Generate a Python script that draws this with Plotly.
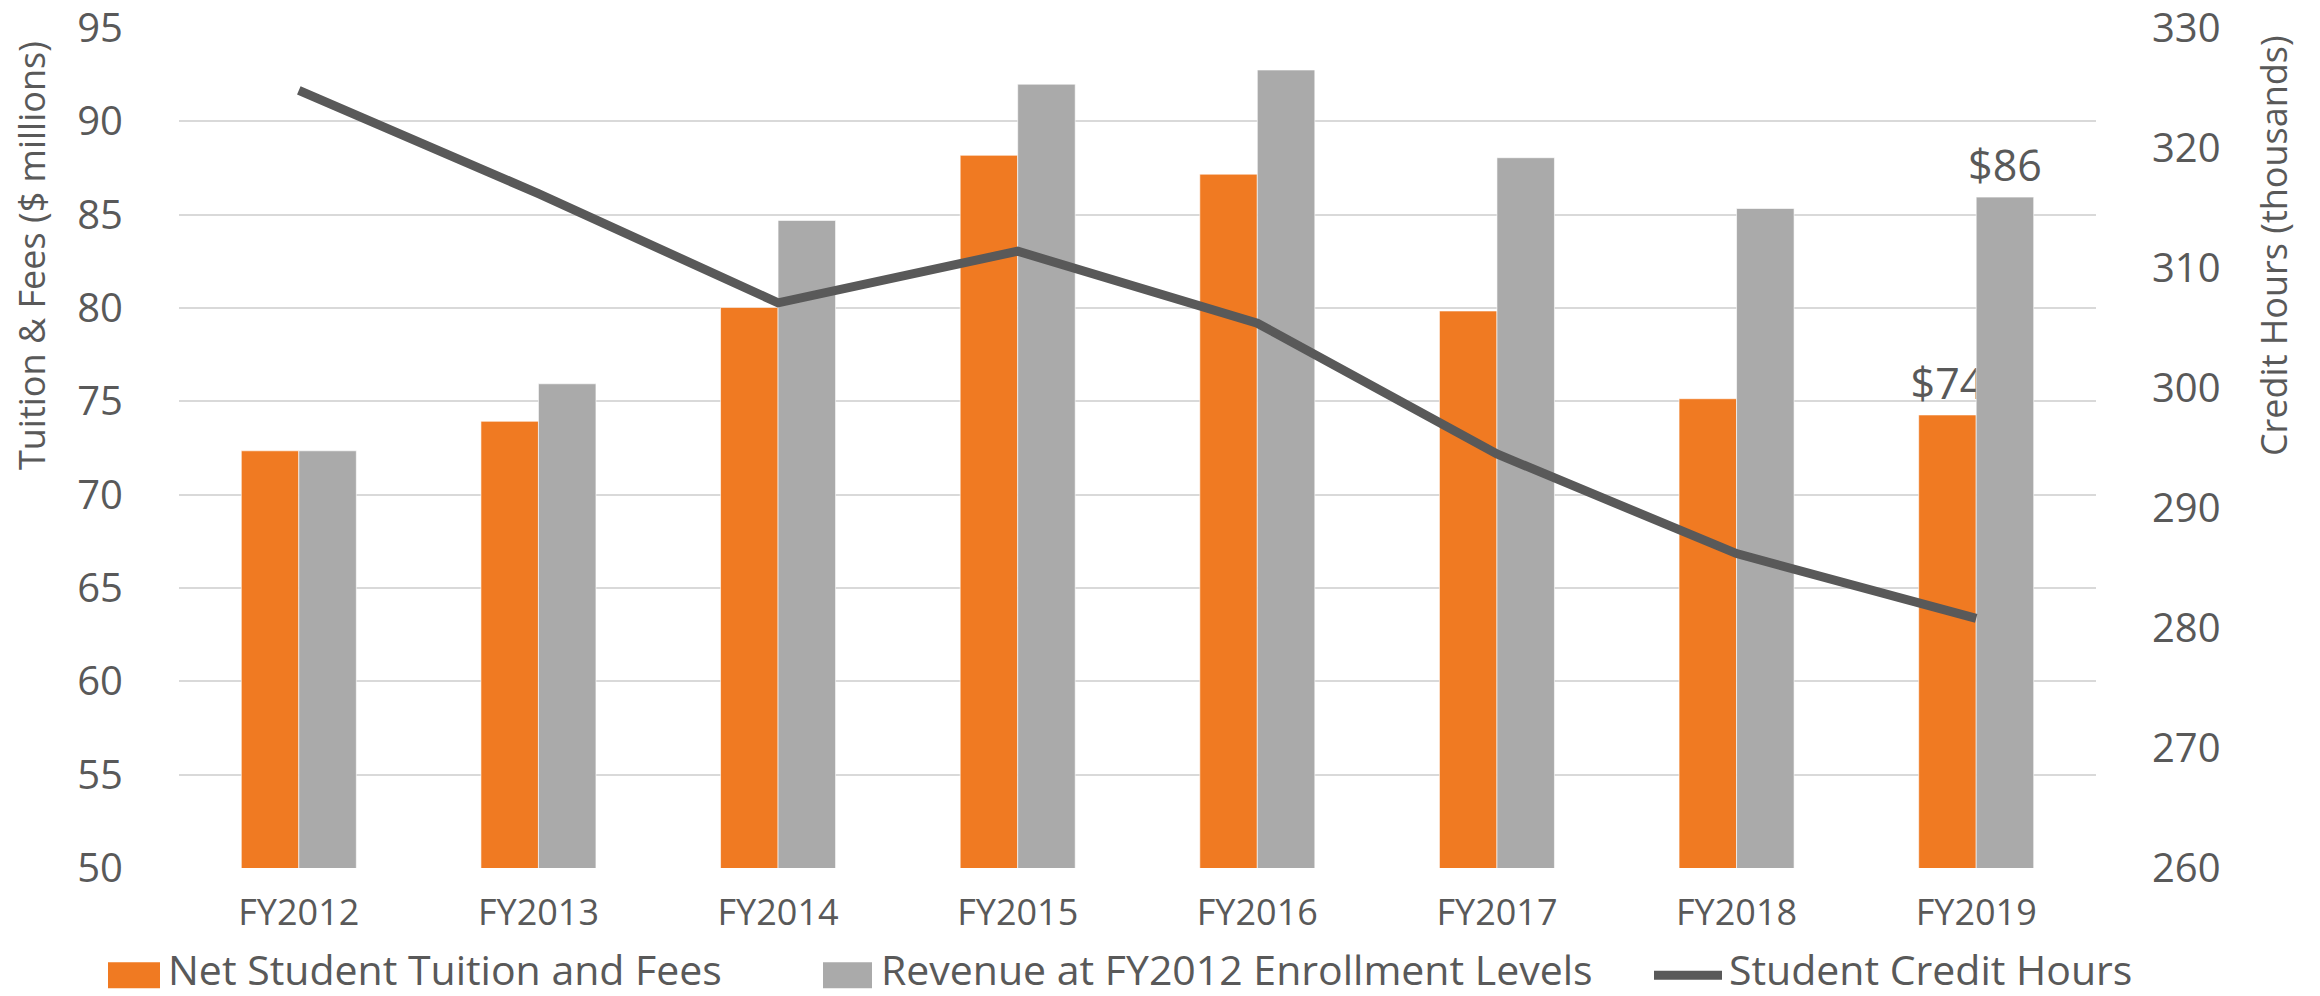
import plotly.graph_objects as go

# ---- data ----
categories = ["FY2012", "FY2013", "FY2014", "FY2015", "FY2016", "FY2017", "FY2018", "FY2019"]
net_tuition = [72.35, 73.93, 80.03, 88.18, 87.17, 79.84, 75.14, 74.27]
revenue_fy2012_levels = [72.35, 75.94, 84.69, 91.99, 92.75, 88.05, 85.33, 85.94]
credit_hours = [324.8, 316.2, 307.1, 311.4, 305.4, 294.5, 286.2, 280.8]

series_names = ["Net Student Tuition and Fees", "Revenue at FY2012 Enrollment Levels", "Student Credit Hours"]
left_title = "Tuition & Fees ($ millions)"
right_title = "Credit Hours (thousands)"

# labels only for the last year
labels_net = ["" for _ in net_tuition[:-1]] + [f"${net_tuition[-1]:.0f}"]
labels_rev = ["" for _ in revenue_fy2012_levels[:-1]] + [f"${revenue_fy2012_levels[-1]:.0f}"]

# ---- style ----
W, H = 2320, 996
L, R, T, B = 179, 2096, 28, 867.7
ORANGE = "#F07A22"
GRAY = "#AAAAAA"
LINEC = "#595959"
TXT = "#595959"
FONT = "Open Sans"


def px2x(px):
    return (px - L) / (R - L)


def px2y(py):
    return (B - py) / (B - T)


fig = go.Figure()
fig.add_trace(go.Bar(
    x=categories, y=net_tuition, name=series_names[0],
    marker=dict(color=ORANGE, line=dict(color="rgba(255,255,255,0.6)", width=1)),
    text=labels_net, textposition="outside", constraintext="none", cliponaxis=False,
    textfont=dict(size=43, color=TXT, family=FONT), showlegend=False,
))
fig.add_trace(go.Bar(
    x=categories, y=revenue_fy2012_levels, name=series_names[1],
    marker=dict(color=GRAY, line=dict(color="rgba(255,255,255,0.6)", width=1)),
    text=labels_rev, textposition="outside", constraintext="none", cliponaxis=False,
    textfont=dict(size=43, color=TXT, family=FONT), showlegend=False,
))
fig.add_trace(go.Scatter(
    x=categories, y=credit_hours, name=series_names[2], yaxis="y2",
    mode="lines", line=dict(color=LINEC, width=9), showlegend=False,
))

fig.update_layout(
    width=W, height=H,
    margin=dict(l=L, r=W - R, t=T, b=H - B, autoexpand=False),
    paper_bgcolor="white", plot_bgcolor="white",
    barmode="group", bargap=0.52, bargroupgap=0,
    font=dict(family=FONT, color=TXT),
    xaxis=dict(type="category", showgrid=False, showline=False, zeroline=False, ticks="",
               tickfont=dict(size=36, color=TXT), ticklabelstandoff=20, automargin=False),
    yaxis=dict(range=[50, 95.0001], tick0=50, dtick=5, showgrid=True, gridcolor="#D9D9D9", gridwidth=2,
               zeroline=False, showline=False, ticks="", tickfont=dict(size=40, color=TXT),
               ticklabelstandoff=55, ticklabeloverflow="allow", automargin=False),
    yaxis2=dict(range=[260, 330.0001], tick0=260, dtick=10, overlaying="y", side="right",
                showgrid=False, zeroline=False, showline=False, ticks="",
                tickfont=dict(size=40, color=TXT), ticklabelstandoff=55, ticklabeloverflow="allow",
                automargin=False),
)

annotations = [
    dict(text=left_title, x=px2x(31), y=px2y(256), xref="paper", yref="paper", textangle=-90,
         showarrow=False, font=dict(size=36, color=TXT, family=FONT), xanchor="center", yanchor="middle"),
    dict(text=right_title, x=px2x(2273), y=px2y(246), xref="paper", yref="paper", textangle=-90,
         showarrow=False, font=dict(size=36, color=TXT, family=FONT), xanchor="center", yanchor="middle"),
]
legend_y = 969
legend_items = [
    (series_names[0], 166),
    (series_names[1], 879),
    (series_names[2], 1727),
]
for name, sx in legend_items:
    annotations.append(dict(text=name, x=px2x(sx), y=px2y(legend_y), xref="paper", yref="paper",
                            showarrow=False, xanchor="left", yanchor="middle",
                            font=dict(size=41, color=TXT, family=FONT)))
shapes = [
    dict(type="rect", xref="paper", yref="paper", x0=px2x(108), x1=px2x(160), y0=px2y(988), y1=px2y(962),
         fillcolor=ORANGE, line=dict(width=0)),
    dict(type="rect", xref="paper", yref="paper", x0=px2x(823), x1=px2x(872), y0=px2y(988), y1=px2y(962),
         fillcolor=GRAY, line=dict(width=0)),
    dict(type="line", xref="paper", yref="paper", x0=px2x(1654), x1=px2x(1722), y0=px2y(975), y1=px2y(975),
         line=dict(color=LINEC, width=9)),
]
fig.update_layout(annotations=annotations, shapes=shapes)

fig.write_html("out.html")
